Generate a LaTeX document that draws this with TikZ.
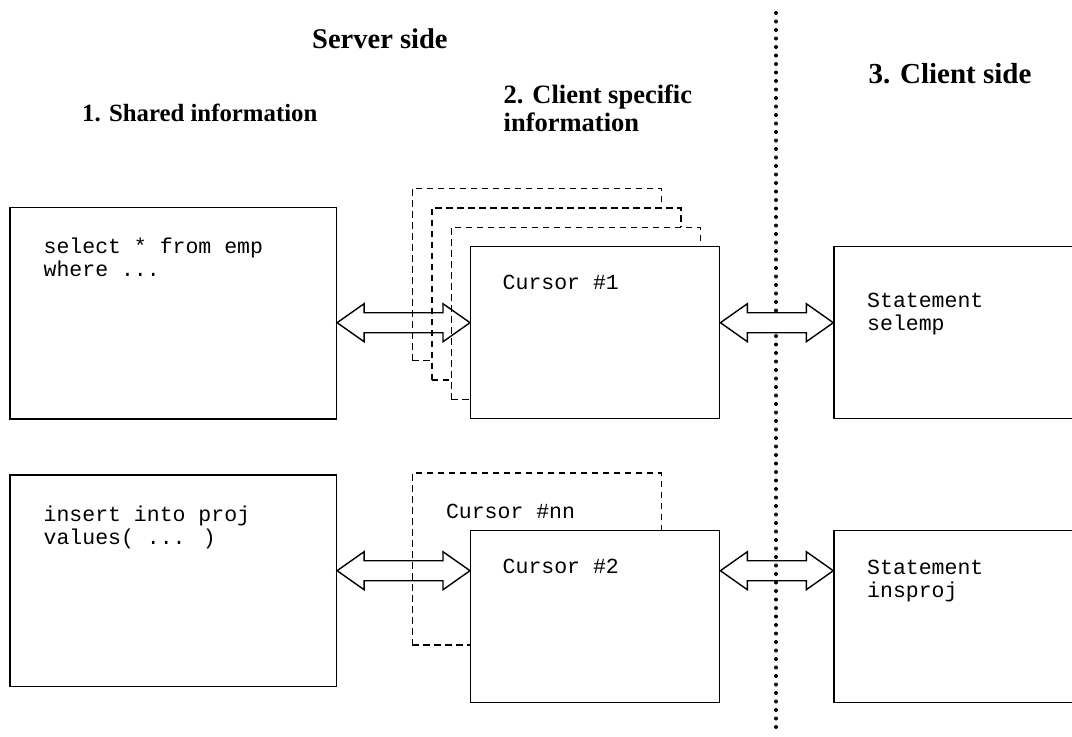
\documentclass[tikz,border=0pt]{standalone}
\usepackage{fontspec}
\setmainfont{Liberation Serif}
\newfontfamily\codefont{Liberation Mono}
\usetikzlibrary{calc}
\begin{document}
\begin{tikzpicture}[x=1pt,y=-1pt,
  box/.style={draw, fill=white, line width=1.4pt, rectangle, inner sep=0pt, anchor=north west},
  solidbox/.style={box, minimum width=249pt, minimum height=172pt},
  ghostbox/.style={box, line width=1.6pt, dash pattern=on 6.5pt off 4.5pt, minimum width=249pt, minimum height=172pt},
  bigbox/.style={box, minimum width=326.4pt, minimum height=211.6pt},
  clientbox/.style={box, minimum width=260pt, minimum height=172pt},
  hdrbig/.style={font=\fontsize{28.5}{30}\selectfont\bfseries, inner sep=0pt, anchor=base west},
  hdrsmall/.style={font=\fontsize{25.5}{28.4}\selectfont\bfseries, inner sep=0pt, anchor=base west, align=left},
  code/.style={font=\codefont\fontsize{21.5}{22.5}\selectfont, inner sep=0pt, anchor=base west, align=left},
  divider/.style={line width=4pt, dash pattern=on 0pt off 8.5pt, line cap=round},
  dbl/.style={line width=1.4pt, to path={let \p1=(\tikztostart), \p2=(\tikztotarget) in
    (\x1,\y1) -- (\x1+27pt,\y1+19pt) -- (\x1+27pt,\y1+10pt) -- (\x2-27pt,\y1+10pt) -- (\x2-27pt,\y1+19pt)
    -- (\x2,\y1) -- (\x2-27pt,\y1-19pt) -- (\x2-27pt,\y1-10pt) -- (\x1+27pt,\y1-10pt) -- (\x1+27pt,\y1-19pt) -- cycle}}
]
\useasboundingbox (0,0) rectangle (1072,737);
\clip (0,0) rectangle (1072,737);

% divider
\coordinate (dtop) at (776,13);
\coordinate (dbot) at (776,735);
\draw[divider] (dtop) -- (dbot);

% headers
\node[hdrbig] (server) at (312,48.3) {Server side};
\node[hdrbig, font=\fontsize{29}{30}\selectfont\bfseries] (client) at (868.5,83.3) {3. Client side};
\node[hdrsmall, font=\fontsize{24.8}{28.4}\selectfont\bfseries] (shared) at (82,121.7) {1. Shared information};
\node[hdrsmall, font=\fontsize{26.5}{28.4}\selectfont\bfseries] (specific) at (503.5,131.7) {2. Client specific\\information};

% row 1
\node[bigbox] (shared1) at (9.3,206.7) {};
\node[ghostbox] (g1) at (411.5,187.5) {};
\node[ghostbox] (g2) at (431,207) {};
\node[ghostbox] (g3) at (450.5,226.5) {};
\node[solidbox] (cursor1) at (470,246) {};
\node[clientbox] (stmt1) at (833.3,245.7) {};

% row 2
\node[bigbox] (shared2) at (9.3,474.4) {};
\node[ghostbox] (gnn) at (411.5,472.3) {};
\node[solidbox] (cursor2) at (470,530) {};
\node[clientbox] (stmt2) at (833.3,530) {};

% texts
\node[code] (t1) at (43.5,276) {select * from emp\\where ...};
\node[code] (t2) at (43.5,544.3) {insert into proj\\values( ... )};
\node[code] (tc1) at (502.5,289.3) {Cursor \#1};
\node[code] (tcnn) at (445.8,518.3) {Cursor \#nn};
\node[code] (tc2) at (502.5,573.3) {Cursor \#2};
\node[code] (ts1) at (867,330) {Statement\\selemp};
\node[code] (ts2) at (867,597.3) {Statement\\insproj};

% arrows
\coordinate (r1) at (0,322.7);
\coordinate (r2) at (0,570.7);
\draw[dbl] (shared1.east |- r1) to (cursor1.west |- r1);
\draw[dbl, fill=white] (cursor1.east |- r1) to (stmt1.west |- r1);
\draw[dbl] (shared2.east |- r2) to (cursor2.west |- r2);
\draw[dbl] (cursor2.east |- r2) to (stmt2.west |- r2);
\end{tikzpicture}
\end{document}
